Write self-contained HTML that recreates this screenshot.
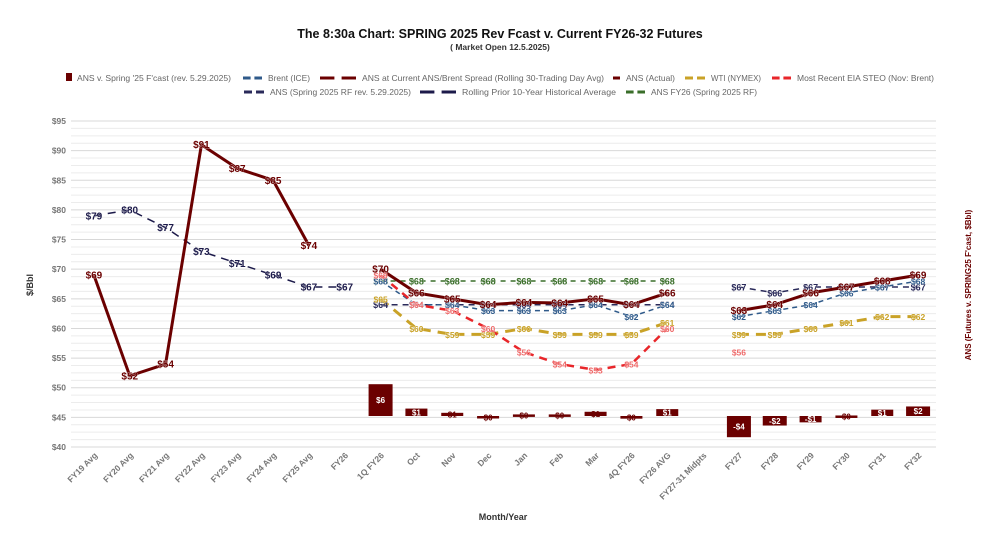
<!DOCTYPE html>
<html><head><meta charset="utf-8">
<style>
body{margin:0;background:#fff;font-family:"Liberation Sans",sans-serif;}
svg{display:block}
</style></head>
<body>
<svg id="chart" width="1000" height="549" xmlns="http://www.w3.org/2000/svg" font-family="Liberation Sans, sans-serif">
<text x="500" y="38" text-anchor="middle" font-size="12.5" font-weight="bold" fill="#111">The 8:30a Chart: SPRING 2025 Rev Fcast v. Current FY26-32 Futures</text>
<text x="500" y="50" text-anchor="middle" font-size="8.5" font-weight="bold" fill="#333">( Market Open 12.5.2025)</text>
<g id="legend"></g>
<g id="grid"></g>
<g id="xaxis"></g>
<g id="bars"></g>
<g id="lines"></g>
<g id="labels"></g>
<text transform="translate(33,285) rotate(-90)" text-anchor="middle" font-size="9" font-weight="bold" fill="#333">$/Bbl</text>
<text transform="translate(971,285) rotate(-90)" text-anchor="middle" font-size="8" font-weight="bold" fill="#6b0000">ANS (Futures v. SPRING25 F'cast, $Bbl)</text>
<text x="503" y="520" text-anchor="middle" font-size="9" font-weight="bold" fill="#333">Month/Year</text>
</svg>
<script>
const categories=["FY19 Avg","FY20 Avg","FY21 Avg","FY22 Avg","FY23 Avg","FY24 Avg","FY25 Avg","FY26","1Q FY26","Oct","Nov","Dec","Jan","Feb","Mar","4Q FY26","FY26 AVG","FY27-31 Midpts","FY27","FY28","FY29","FY30","FY31","FY32"];
const yTicks=[40,45,50,55,60,65,70,75,80,85,90,95];
const N=null;
const ansActual=[69,52,54,91,87,85,74,N,N,N,N,N,N,N,N,N,N,N,N,N,N,N,N,N];
const rolling10=[79,80,77,73,71,69,67,67,N,N,N,N,N,N,N,N,N,N,N,N,N,N,N,N];
const ansCurrent=[N,N,N,N,N,N,N,N,70,66,65,64,64.4,64.3,65,64,66,N,63,64,66,67,68,69];
const ansSpringRF=[N,N,N,N,N,N,N,N,64,64,64,64,64,64,64,64,64,N,67,66,67,67,67,67];
const brent=[N,N,N,N,N,N,N,N,68,64,64,63,63,63,64,62,64,N,62,63,64,66,67,68];
const wti=[N,N,N,N,N,N,N,N,65,60,59,59,60,59,59,59,61,N,59,59,60,61,62,62];
const eia=[N,N,N,N,N,N,N,N,69,64,63,60,56,54,53,54,60,N,56,N,N,N,N,N];
const ansFY26=[N,N,N,N,N,N,N,N,68,68,68,68,68,68,68,68,68,N,N,N,N,N,N,N];
const diffBars=[N,N,N,N,N,N,N,N,6,1.4,0.6,-0.3,0.3,0.3,0.8,-0.5,1.3,N,-4,-1.8,-1.2,0.1,1.2,1.8];

const L=76,R=936,T=121,B=447,yMin=40,yMax=95;
const step=(R-L)/categories.length;
const xs=i=>L+step*(i+0.5);
const ys=v=>B-(v-yMin)/(yMax-yMin)*(B-T);
const zeroY=416,barScale=5.3;
const yb=v=>zeroY-v*barScale;
const NS="http://www.w3.org/2000/svg";
function mk(tag,attrs,parent,txt){const e=document.createElementNS(NS,tag);for(const k in attrs)e.setAttribute(k,attrs[k]);if(txt!=null)e.textContent=txt;parent.appendChild(e);return e;}
const grid=document.getElementById('grid');
for(let v=yMin;v<=yMax;v+=1.25){
  const major=Math.abs(v%5)<0.01;
  const ln=mk('line',{x1:L-5,x2:R,y1:ys(v),y2:ys(v),stroke:major?'#d8d8d8':'#ececec','stroke-width':1},grid);
  
  
}
yTicks.forEach(v=>{
  const t=mk('text',{x:L-10,y:ys(v)+3,'text-anchor':'end','font-size':8.5,fill:'#777','font-weight':'bold'},grid,'$'+v);
  
  
});
const xa=document.getElementById('xaxis');
categories.forEach((c,i)=>{
  const x=xs(i)+4,y=456;
  const t=mk('text',{x:x,y:y,'text-anchor':'end','font-size':8.5,fill:'#777','font-weight':'bold',transform:`rotate(-45 ${x} ${y})`},xa,c);
  
  
});
const bars=document.getElementById('bars'),labels=document.getElementById('labels');
diffBars.forEach((v,i)=>{
  if(v==null)return;
  const w=Math.abs(v)<1.5?22:24;
  const y0=Math.min(yb(v),zeroY),h=Math.max(Math.abs(v)*barScale,2.5);
  const r=mk('rect',{x:xs(i)-w/2,y:y0,width:w,height:h,fill:'#6b0000'},bars);
  
  
  const t=mk('text',{x:xs(i),y:y0+h/2+3,'text-anchor':'middle','font-size':8,fill:'#fff','font-weight':'bold'},labels,(Math.round(v)<0?'-$'+Math.abs(Math.round(v)):'$'+Math.round(v)));
  if(h<6){t.setAttribute('fill','#6b0000');}
  
  
});
const lines=document.getElementById('lines');
const series=[
 {name:'rolling-10yr-line',data:rolling10,color:'#1c1a4a',w:1.5,dash:'8,6',lab:'#1c1a4a',fs:10},
 {name:'ans-fy26-line',data:ansFY26,color:'#3a6e2a',w:1.5,dash:'5,5',lab:'#3a6e2a',fs:9},
 {name:'ans-spring-rf-line',data:ansSpringRF,color:'#2a2a5a',w:1.5,dash:'6,5',lab:'#2a2a5a',fs:9},
 {name:'brent-line',data:brent,color:'#2f5a8a',w:1.5,dash:'5,4',lab:'#2f5a8a',fs:8.5},
 {name:'wti-line',data:wti,color:'#c9a227',w:3,dash:'10,7',lab:'#c9a227',fs:8.5},
 {name:'eia-steo-line',data:eia,color:'#e8262a',w:2.5,dash:'8,6',lab:'#ee6a6a',fs:8.5},
 {name:'ans-actual-line',data:ansActual,color:'#6b0000',w:3,dash:'',lab:'#6b0000',fs:10},
 {name:'ans-current-line',data:ansCurrent,color:'#6b0000',w:3,dash:'',lab:'#6b0000',fs:10},
];
series.forEach(s=>{
  let segs=[],cur=[];
  s.data.forEach((v,i)=>{if(v==null){if(cur.length)segs.push(cur);cur=[];}else cur.push([xs(i),ys(v)]);});
  if(cur.length)segs.push(cur);
  segs.forEach(sg=>{
    if(sg.length<2)return;
    const p=mk('polyline',{points:sg.map(q=>q.join(',')).join(' '),fill:'none',stroke:s.color,'stroke-width':s.w,'stroke-dasharray':s.dash,'stroke-linejoin':'round'},lines);
    
    
  });
  s.data.forEach((v,i)=>{
    if(v==null)return;
    const t=mk('text',{x:xs(i),y:ys(v)+3.5,'text-anchor':'middle','font-size':s.fs,fill:s.lab,'font-weight':'bold',stroke:'#fff','stroke-width':0.4,'paint-order':'stroke'},labels,'$'+Math.round(v));
    
    
  });
});
// legend
const lg=document.getElementById('legend');
const items=[
 [[66,78],'box','#6b0000',"ANS v. Spring '25 F'cast (rev. 5.29.2025)",77,154],
 [[243,78],'dash','#2f5a8a','Brent (ICE)',268,42],
 [[320,78],'dash','#6b0000','ANS at Current ANS/Brent Spread (Rolling 30-Trading Day Avg)',362,242],
 [[613,78],'one','#6b0000','ANS (Actual)',626,49],
 [[685,78],'dash','#c9a227','WTI (NYMEX)',711,50],
 [[772,78],'dash','#e8262a','Most Recent EIA STEO (Nov: Brent)',797,137],
 [[244,92],'dash','#2a2a5a','ANS (Spring 2025 RF rev. 5.29.2025)',270,141],
 [[420,92],'dash','#1c1a4a','Rolling Prior 10-Year Historical Average',462,154],
 [[626,92],'dash','#3a6e2a','ANS FY26 (Spring 2025 RF)',651,106],
];
items.forEach(([p,type,col,txt,tx,tw])=>{
  const g=mk('g',{},lg);
  
  
  if(type==='box'){mk('rect',{x:p[0],y:p[1]-5,width:6,height:8,fill:col},g);}
  else if(type==='one'){mk('line',{x1:p[0],x2:p[0]+7,y1:p[1],y2:p[1],stroke:col,'stroke-width':3},g);}
  else{const len=(tx-p[0])-6;mk('line',{x1:p[0],x2:p[0]+len,y1:p[1],y2:p[1],stroke:col,'stroke-width':3,'stroke-dasharray':`${len*0.4},${len*0.2}`},g);}
  mk('text',{x:tx,y:p[1]+3,'font-size':8.3,fill:'#666',textLength:tw,lengthAdjust:'spacingAndGlyphs'},g,txt);
});
</script>
</body></html>
